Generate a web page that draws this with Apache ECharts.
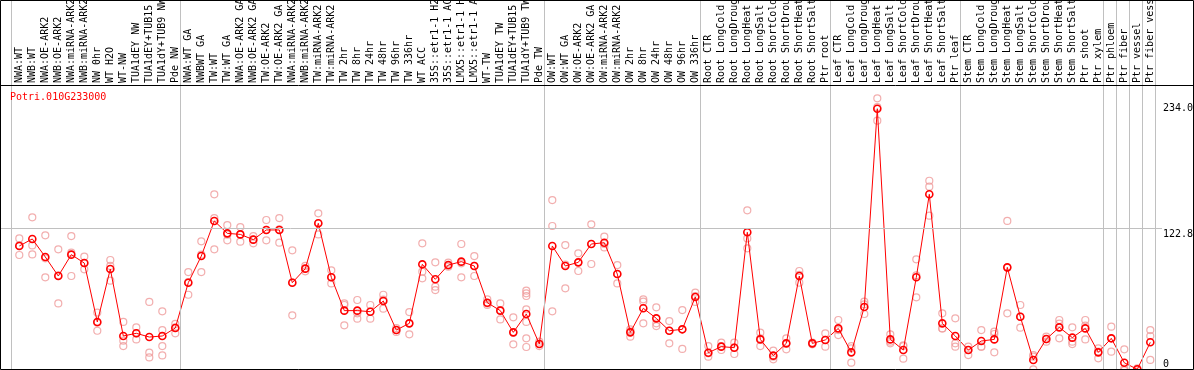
<!DOCTYPE html>
<html><head><meta charset="utf-8">
<script src="https://cdn.jsdelivr.net/npm/echarts@6/dist/echarts.min.js"></script>
<style>html,body{margin:0;padding:0;background:#fff}#c{width:1194px;height:370px}</style>
</head><body><div id="c"></div>
<script>
const geneId = 'Potri.010G233000';
const categories = [
 'NWA:WT','NWB:WT','NWA:OE-ARK2','NWB:OE-ARK2','NWA:miRNA-ARK2','NWB:miRNA-ARK2','NW 0hr','WT H2O','WT-NW','TUA1dEY NW','TUA1dEY+TUB15 NW','TUA1dY+TUB9 NW','Pde NW',
 'NWA:WT GA','NWBWT GA','TW:WT','TW:WT GA','NWA:OE-ARK2 GA','NWB:OE-ARK2 GA','TW:OE-ARK2','TW:OE-ARK2 GA','NWA:miRNA-ARK2','NWB:miRNA-ARK2','TW:miRNA-ARK2','TW:miRNA-ARK2',
 'TW 2hr','TW 8hr','TW 24hr','TW 48hr','TW 96hr','TW 336hr','WT ACC','35S::etr1-1 H2O','35S::etr1-1 ACC','LMX5::etr1-1 H2O','LMX5::etr1-1 ACC','WT-TW','TUA1dEY TW','TUA1dEY+TUB15 TW','TUA1dY+TUB9 TW','Pde TW',
 'OW:WT','OW:WT GA','OW:OE-ARK2','OW:OE-ARK2 GA','OW:miRNA-ARK2','OW:miRNA-ARK2','OW 2hr','OW 8hr','OW 24hr','OW 48hr','OW 96hr','OW 336hr',
 'Root CTR','Root LongCold','Root LongDrought','Root LongHeat','Root LongSalt','Root ShortCold','Root ShortDrought','Root ShortHeat','Root ShortSalt','Ptr root',
 'Leaf CTR','Leaf LongCold','Leaf LongDrought','Leaf LongHeat','Leaf LongSalt','Leaf ShortCold','Leaf ShortDrought','Leaf ShortHeat','Leaf ShortSalt','Ptr leaf',
 'Stem CTR','Stem LongCold','Stem LongDrought','Stem LongHeat','Stem LongSalt','Stem ShortCold','Stem ShortDrought','Stem ShortHeat','Stem ShortSalt','Ptr shoot',
 'Ptr xylem','Ptr phloem','Ptr fiber','Ptr vessel','Ptr fiber vessel'
];
const means = [
 107.8,113.8,98.4,82.1,100.4,93.2,42.8,88.1,30.8,33.1,29.9,30.8,37.6,
 76.4,99.2,129.2,118.6,117.7,113.2,121.5,121.5,76.4,88.4,127.2,81.0,
 52.5,52.5,51.6,60.7,35.9,41.6,92.1,79.3,91.5,94.4,90.7,59.3,52.5,33.9,49.6,24.0,
 107.8,90.7,93.8,109.5,110.6,83.8,33.9,54.5,45.9,35.3,36.5,64.2,
 16.5,21.7,20.8,119.5,27.9,14.0,24.5,82.1,24.5,27.4,
 37.3,16.8,55.6,225.2,27.9,18.8,81.0,152.0,41.6,30.8,
 18.8,26.5,27.9,89.5,47.3,10.3,28.2,38.2,29.4,37.3,
 16.8,28.8,7.9,2.3,25.4
];
const replicates = [
 [114.3,108.3,100.1],[132.3,108.3,100.6],[116.9,97.2,81.0],[104.9,82.7,58.7],[116.3,102.1,82.1],[98.7,93.2,87.8],[50.8,42.2,35.3],[95.8,90.7,78.1],[42.8,26.8,22.2],[38.2,33.1,27.9],[59.9,16.5,12.5],[51.9,35.9,22.2,14.2],[41.1,38.2,33.1],
 [85.5,77.0,66.1],[111.8,100.4,85.5],[152.0,131.7,104.9],[125.7,117.5,112.6],[124.0,117.7,111.5],[116.3,113.2,110.1],[130.0,121.5,112.6],[131.7,122.0,110.6],[104.1,76.7,48.5],[90.7,88.4,86.1],[135.7,127.2,117.7],[87.0,81.0,75.8],
 [58.7,57.3,39.9],[61.6,50.2,45.6],[57.3,51.6,45.6],[66.1,61.9,54.2],[37.6,35.9,34.2],[51.3,41.6,32.2],[110.1,85.8,80.1],[93.8,73.0,70.1],[93.5,90.9,90.1],[109.5,93.0,81.0],[99.2,90.7,82.1],[62.2,58.5,57.3],[58.7,53.0,45.0],[46.8,33.6,23.7],[69.6,67.3,65.0,53.6,42.8,28.8,21.4],[25.9,24.0,22.2],
 [147.1,124.9,51.9],[108.6,91.8,71.6],[101.5,93.8,86.4],[126.3,109.5,92.4],[115.8,109.5,106.6],[91.5,83.8,75.8],[36.5,34.8,30.2],[62.2,60.2,41.6],[55.3,41.6,39.3],[43.6,35.3,24.5],[53.0,36.5,19.7],[67.9,65.0,59.9],
 [22.2,16.0,13.1],[25.1,22.2,18.8],[25.1,21.1,15.4],[138.3,114.3,105.8],[33.6,28.8,22.2],[18.2,13.1,10.8],[28.8,24.5,19.4],[86.4,83.0,76.4],[25.1,24.5,23.7],[33.1,27.4,21.7],
 [44.5,35.9,31.6],[22.2,20.2,8.0],[60.2,57.9,49.6],[234.1,226.5,215.0],[32.2,25.9,24.5],[22.8,22.2,11.4],[96.4,82.7,63.9],[163.6,158.5,133.7],[50.2,37.3,37.3],[45.9,24.5,21.7],
 [21.7,18.8,14.5],[35.9,21.7,21.7],[34.5,32.5,16.8],[129.2,89.2,50.2],[57.3,47.3,37.9],[14.5,13.1,2.3],[30.2,28.2,25.9],[44.5,41.3,28.8],[38.2,25.9,23.9],[44.5,39.6,27.9],
 [20.2,17.4,11.7],[38.8,28.8,17.4],[19.4,3.0,1.4],[3.1,2.3,1.5],[35.9,30.8,10.3]
];
// group separators: number of categories before each boundary
const groupBoundaries = [0,13,41,53,63,73,84,85,86,87,88];
const yTickValues = [0, 122.8, 234];
const yTickLabels = ['0', '122.8', '234.0'];
const gridLineValue = 122.8;
const yMax = 245.5;

const mono = 'DejaVu Sans Mono';
const repData = [];
replicates.forEach((reps, i) => reps.forEach(v => repData.push([i, v])));
const labelStyleKeys = ['bot', 'mid', 'top'];

const chart = echarts.init(document.getElementById('c'), null, {renderer: 'canvas'});
chart.setOption({
  animation: false,
  backgroundColor: '#ffffff',
  title: {text: geneId, left: 10, top: 92, padding: 0,
    textStyle: {color: '#ff0000', fontSize: 10, fontFamily: mono, fontWeight: 'normal'}},
  grid: [
    {left: 12.8, right: 37.2, top: 85, bottom: -2, containLabel: false, outerBoundsMode: 'none'},
    {left: 11, right: 39, top: 0, bottom: 0, containLabel: false, outerBoundsMode: 'none'},
    {left: 0, right: 32, top: 85, bottom: -2, containLabel: false, outerBoundsMode: 'none'}
  ],
  xAxis: [
    {type: 'category', gridIndex: 0, position: 'top', data: categories, boundaryGap: true,
     axisLine: {show: false}, axisTick: {show: false}, splitLine: {show: false},
     axisLabel: {interval: 0, rotate: 90, margin: 2, align: 'left', verticalAlign: 'middle',
       fontSize: 10, fontFamily: mono, color: '#000'}},
    {type: 'value', gridIndex: 1, min: 0, max: categories.length, show: false},
    {type: 'value', gridIndex: 2, min: 0, max: 1, show: false}
  ],
  yAxis: [
    {type: 'value', gridIndex: 0, min: 0, max: yMax, show: false},
    {type: 'value', gridIndex: 1, min: 0, max: 1, show: false},
    {type: 'value', gridIndex: 2, min: 0, max: yMax, position: 'right',
     axisLine: {show: false}, axisTick: {show: false}, splitLine: {show: false},
     axisLabel: {customValues: yTickValues, margin: 1, fontSize: 10, fontFamily: mono, color: '#000', align: 'left',
       formatter: function (v) {
         const i = yTickValues.indexOf(v);
         return i < 0 ? '' : '{' + labelStyleKeys[i] + '|' + yTickLabels[i] + '}';
       },
       rich: {
         top: {fontSize: 10, fontFamily: mono, color: '#000', padding: [20, 0, 0, 0]},
         mid: {fontSize: 10, fontFamily: mono, color: '#000', padding: [12, 0, 0, 0]},
         bot: {fontSize: 10, fontFamily: mono, color: '#000', padding: [0, 0, 15, 0]}
       }}}
  ],
  graphic: [
    {type: 'line', shape: {x1: 0, y1: 85.5, x2: 1194, y2: 85.5}, style: {stroke: '#000', lineWidth: 1}, z: 10},
    {type: 'rect', shape: {x: 0.5, y: 0.5, width: 1193, height: 369}, style: {fill: null, stroke: '#000', lineWidth: 1}, z: 10}
  ],
  series: [
    {type: 'line', xAxisIndex: 1, yAxisIndex: 1, data: [], silent: true, z: 1,
     markLine: {silent: true, symbol: ['none', 'none'], label: {show: false},
       lineStyle: {color: '#c0c0c0', type: 'solid', width: 1},
       data: groupBoundaries.map(b => ({xAxis: b}))}},
    {type: 'line', xAxisIndex: 2, yAxisIndex: 2, data: [], silent: true, z: 1,
     markLine: {silent: true, symbol: ['none', 'none'], label: {show: false},
       lineStyle: {color: '#c0c0c0', type: 'solid', width: 1},
       data: [{yAxis: gridLineValue}]}},
    {type: 'scatter', xAxisIndex: 0, yAxisIndex: 0, data: repData, symbol: 'circle', symbolSize: 7, clip: false, z: 2,
     itemStyle: {color: 'rgba(0,0,0,0)', borderColor: '#ef9a9a', borderWidth: 1.2}},
    {type: 'line', xAxisIndex: 0, yAxisIndex: 0, data: means, symbol: 'circle', symbolSize: 7, showAllSymbol: true, clip: false, z: 3,
     lineStyle: {color: '#ff0000', width: 1},
     itemStyle: {color: 'rgba(0,0,0,0)', borderColor: '#ff0000', borderWidth: 1.6}}
  ]
});
</script></body></html>
